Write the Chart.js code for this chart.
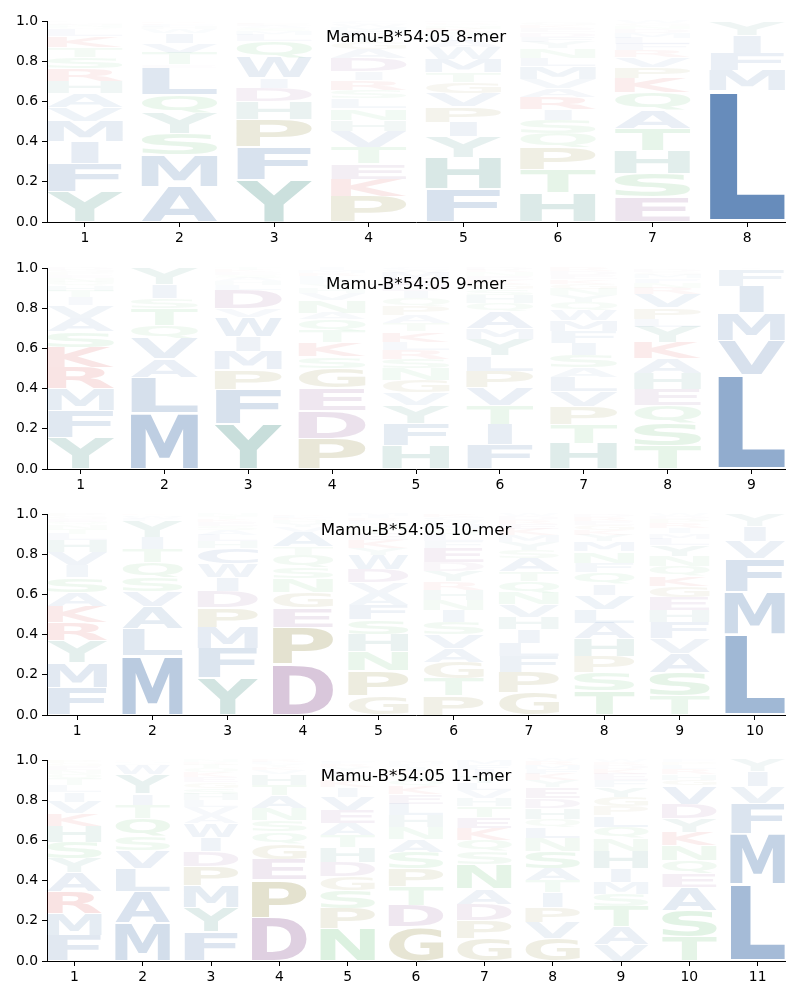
<!DOCTYPE html>
<html>
<head>
<meta charset="utf-8">
<script src="https://cdn.jsdelivr.net/npm/chart.js@4.4.1/dist/chart.umd.min.js"></script>
<style>
  body { margin: 0; background: #fff; }
  #wrap { position: relative; width: 800px; height: 1000px; }
  #wrap canvas { position: absolute; left: 0; }
</style>
</head>
<body>
<div id="wrap">
  <canvas id="logo8" width="800" height="247" style="top:0px"></canvas>
  <canvas id="logo9" width="800" height="247" style="top:247px"></canvas>
  <canvas id="logo10" width="800" height="247" style="top:493px"></canvas>
  <canvas id="logo11" width="800" height="247" style="top:739px"></canvas>
</div>
<script>
// letters of each position, bottom to top, and their heights (fractions)
const titles = ['Mamu-B*54:05 8-mer', 'Mamu-B*54:05 9-mer', 'Mamu-B*54:05 10-mer', 'Mamu-B*54:05 11-mer'];

const mer8Letters = ['YFIMVAHRSTKLQNEGDC', 'AMSYQLETVIWHFKRG', 'YFPHDIWQLMSAEKG', 'PKETVHNLSRIDAGYFMWCQ',
    'FHYIPVGTMWALSKNQRD', 'HTPQSIRAVMLNYFDEKGW', 'ESHTAQKPVRFLMDNGW', 'LMFIYV'];
const mer8Heights = [
    [.151,.142,.106,.101,.07,.069,.061,.062,.059,.05,.056,.03,.012,.01,.008,.006,.004,.003],
    [.174,.159,.106,.099,.094,.136,.015,.058,.05,.05,.018,.012,.01,.008,.006,.005],
    [.21,.164,.136,.088,.069,.05,.101,.082,.03,.02,.015,.012,.01,.008,.005],
    [.126,.088,.077,.082,.079,.056,.057,.048,.044,.048,.043,.067,.045,.035,.03,.025,.02,.015,.01,.005],
    [.166,.155,.103,.074,.075,.066,.056,.05,.066,.058,.03,.025,.02,.018,.014,.01,.008,.006],
    [.144,.119,.106,.071,.067,.054,.062,.043,.046,.061,.042,.049,.03,.028,.022,.02,.015,.012,.009],
    [.122,.117,.118,.109,.089,.088,.072,.057,.05,.035,.03,.03,.025,.02,.015,.013,.01],
    [.652,.1,.089,.088,.068,.003]
];

const mer9Letters = ['YFMRKSAVITHQNEPGD', 'MLAVQTSIYF', 'YFPMIWVDLHASEKT', 'PDEGSKTQANVHYFLRMI',
    'HFYVGNSRLKTAPQIDEMWC', 'FITVPLYMAQHSGKENRD', 'HTPVLASIFMWQYNGKEDR', 'TSQEHAKYLPVRNFMGDW', 'LVMIFY'];
const mer9Heights = [
    [.156,.135,.108,.106,.1,.079,.067,.063,.041,.03,.027,.02,.018,.015,.013,.012,.01],
    [.279,.178,.091,.1,.068,.084,.05,.067,.08,.003],
    [.224,.171,.098,.092,.073,.098,.041,.092,.025,.02,.018,.015,.012,.011,.01],
    [.153,.138,.111,.1,.058,.068,.058,.057,.034,.062,.035,.025,.022,.02,.018,.016,.013,.012],
    [.118,.11,.091,.06,.061,.058,.05,.045,.04,.05,.04,.04,.045,.04,.035,.03,.03,.03,.015,.012],
    [.121,.1,.095,.089,.082,.076,.083,.055,.08,.043,.04,.03,.025,.022,.02,.017,.012,.01],
    [.128,.095,.088,.073,.073,.048,.061,.059,.058,.055,.051,.042,.035,.03,.025,.022,.02,.02,.017],
    [.113,.116,.087,.079,.082,.073,.078,.078,.04,.056,.07,.03,.025,.022,.018,.013,.012,.008],
    [.47,.168,.139,.133,.083,.007]
];

const mer10Letters = ['FMYRKASIVHLTNQEGP', 'MLAVSQTIYFWHK', 'YFMPDIWCHLASEKTN', 'DPEGNSQTAVYHKLR',
    'GPNHSFAVDWYKETQLRIM', 'PTGAVSINHRYDEFLQMWCK', 'GPFLIHVNQTASYMKERDW', 'TSPHALVIQFNMYKGERD',
    'TSAVFHEGKQNYLMIRPDW', 'LMFVIY'];
const mer10Heights = [
    [.136,.125,.108,.091,.083,.067,.073,.06,.066,.063,.03,.025,.02,.015,.015,.013,.01],
    [.296,.133,.109,.077,.069,.075,.065,.06,.079,.012,.01,.008,.007],
    [.183,.149,.105,.098,.08,.068,.068,.08,.035,.03,.025,.02,.018,.015,.014,.012],
    [.254,.183,.098,.075,.069,.054,.064,.042,.071,.025,.02,.015,.012,.01,.008],
    [.095,.124,.098,.085,.073,.073,.058,.055,.065,.071,.034,.041,.03,.025,.022,.018,.013,.01,.01],
    [.095,.088,.081,.068,.067,.061,.06,.051,.052,.04,.051,.045,.072,.035,.03,.028,.025,.02,.016,.015],
    [.111,.1,.083,.065,.066,.063,.062,.058,.058,.05,.065,.04,.04,.035,.03,.025,.02,.017,.012],
    [.118,.093,.078,.091,.078,.069,.069,.054,.058,.049,.057,.05,.03,.025,.025,.02,.02,.016],
    [.095,.119,.093,.073,.08,.06,.066,.055,.05,.05,.051,.055,.03,.028,.025,.025,.02,.015,.01],
    [.402,.211,.164,.088,.075,.06]
];

const mer11Letters = ['FMRAYSHKVILTQNEGP', 'MALVSQTIYWFHKR', 'FYMPDIWAVLHSGEKQTRN', 'DPEGQSNATHVKYLR',
    'NPSGDHTAEVIKQLYRFM', 'GDTPSANHLEKQYRIFMV', 'GPDANSQKETHVLYIFM', 'GVPITASNLQHDEYKFMRW',
    'VATSMIHNQLPGYFEKDRW', 'TSAEQNKYDVGHRLPF', 'LMFVIY'];
const mer11Heights = [
    [.128,.108,.108,.095,.071,.081,.08,.062,.059,.047,.035,.03,.025,.02,.02,.016,.015],
    [.188,.158,.114,.09,.07,.089,.067,.056,.095,.05,.008,.006,.005,.004],
    [.145,.121,.111,.095,.076,.068,.068,.039,.041,.035,.032,.03,.028,.025,.024,.02,.018,.013,.011],
    [.216,.188,.101,.078,.06,.056,.06,.063,.053,.055,.02,.015,.013,.012,.01],
    [.161,.1,.089,.07,.073,.073,.059,.059,.067,.065,.048,.03,.028,.025,.02,.015,.01,.008],
    [.169,.108,.095,.088,.083,.063,.058,.059,.058,.05,.041,.03,.025,.02,.02,.013,.012,.008],
    [.111,.092,.081,.076,.122,.064,.055,.058,.057,.056,.04,.04,.035,.035,.03,.025,.023],
    [.111,.083,.073,.072,.06,.061,.086,.064,.056,.04,.053,.05,.055,.035,.03,.025,.022,.018,.01],
    [.083,.086,.103,.06,.06,.068,.088,.062,.056,.057,.044,.047,.05,.035,.03,.025,.02,.016,.01],
    [.12,.132,.115,.07,.066,.073,.065,.068,.072,.091,.03,.028,.025,.02,.015,.01],
    [.384,.251,.151,.083,.073,.058]
];

// colour of each residue group, drawn with opacity = letter height
const groupRgb = {
    hydrophobic: [21, 79, 150],
    aromatic: [11, 109, 94],
    polar: [40, 165, 60],
    special: [110, 100, 0],
    acidic: [107, 35, 115],
    basic: [200, 0, 0]
};
const residueGroup = {
    A:'hydrophobic', C:'hydrophobic', F:'hydrophobic', I:'hydrophobic', L:'hydrophobic',
    M:'hydrophobic', V:'hydrophobic', W:'hydrophobic',
    H:'aromatic', Y:'aromatic',
    N:'polar', Q:'polar', S:'polar', T:'polar',
    G:'special', P:'special',
    D:'acidic', E:'acidic',
    K:'basic', R:'basic'
};

const glyphFont = 'bold 200px "DejaVu Sans"';
const vpad = 0.05;
const narrowShare = 0.36;   // a thin glyph like I only takes this share of the column
const glyphCache = {};

function glyphBox(ctx, ch){
    if (!glyphCache[ch]){
        ctx.save();
        ctx.font = glyphFont;
        const m = ctx.measureText(ch);
        glyphCache[ch] = {l: m.actualBoundingBoxLeft, r: m.actualBoundingBoxRight,
                          a: m.actualBoundingBoxAscent, d: m.actualBoundingBoxDescent};
        ctx.restore();
    }
    return glyphCache[ch];
}

function makeLogoPlugin(title, letters, heights){
    return {
        id: 'seqlogo',
        afterDatasetsDraw(chart){
            const ctx = chart.ctx;
            const x = chart.scales.x, y = chart.scales.y;
            const iBox = glyphBox(ctx, 'I');
            const minW = (iBox.l + iBox.r) / narrowShare;
            letters.forEach((col, i) => {
                const pos = i + 1;
                let floor = 0;
                for (let k = 0; k < col.length; k++){
                    const ch = col[k];
                    const h = heights[i][k];
                    const lo = floor + h * vpad / 2;
                    const hi = floor + h - h * vpad / 2;
                    floor += h;
                    const x0 = x.getPixelForValue(pos - 0.4);
                    const x1 = x.getPixelForValue(pos + 0.4);
                    const yTop = y.getPixelForValue(hi);
                    const yBot = y.getPixelForValue(lo);
                    const g = glyphBox(ctx, ch);
                    const inkW = g.l + g.r;
                    const boxW = Math.max(inkW, minW);
                    const sx = (x1 - x0) / boxW;
                    const rgb = groupRgb[residueGroup[ch]];
                    ctx.save();
                    ctx.translate(x0 + (boxW - inkW) / 2 * sx, yTop);
                    ctx.scale(sx, (yBot - yTop) / (g.a + g.d));
                    ctx.font = glyphFont;
                    ctx.textAlign = 'left';
                    ctx.textBaseline = 'alphabetic';
                    ctx.fillStyle = 'rgba(' + rgb[0] + ',' + rgb[1] + ',' + rgb[2] + ',' + Math.min(1, h) + ')';
                    ctx.fillText(ch, g.l, g.a);
                    ctx.restore();
                }
            });
        },
        afterDraw(chart){
            const ctx = chart.ctx;
            const area = chart.chartArea;
            ctx.save();
            ctx.font = '16.7px "DejaVu Sans"';
            ctx.fillStyle = '#000';
            ctx.textAlign = 'center';
            ctx.textBaseline = 'alphabetic';
            ctx.fillText(title, (area.left + area.right) / 2, area.top + 21);
            ctx.restore();
        }
    };
}

function drawLogo(canvasId, title, letters, heights){
    const n = letters.length;
    const positions = letters.map((c, i) => i + 1);
    const ctx = document.getElementById(canvasId).getContext('2d');
    return new Chart(ctx, {
        type: 'scatter',
        data: { datasets: [{ data: [] }] },
        options: {
            responsive: false,
            animation: false,
            devicePixelRatio: 1,
            layout: { padding: { top: 21, right: 15, left: 0, bottom: 0 } },
            plugins: { legend: { display: false }, tooltip: { enabled: false } },
            scales: {
                x: {
                    type: 'linear',
                    min: 0.6,
                    max: n + 0.4,
                    afterBuildTicks: (scale) => { scale.ticks = positions.map(v => ({ value: v })); },
                    afterFit: (scale) => { scale.height = 25; },
                    ticks: {
                        color: '#000',
                        padding: 3,
                        font: { family: 'DejaVu Sans', size: 13.9 },
                        callback: (v) => String(v)
                    },
                    grid: { drawOnChartArea: false, drawTicks: true, tickLength: 5, color: '#000', lineWidth: 1 },
                    border: { display: true, color: '#000', width: 1 }
                },
                y: {
                    min: 0,
                    max: 1,
                    afterFit: (scale) => { scale.width = 47; },
                    ticks: {
                        stepSize: 0.2,
                        color: '#000',
                        padding: 4,
                        font: { family: 'DejaVu Sans', size: 13.9 },
                        callback: (v) => Number(v).toFixed(1)
                    },
                    grid: { drawOnChartArea: false, drawTicks: true, tickLength: 5, color: '#000', lineWidth: 1 },
                    border: { display: true, color: '#000', width: 1 }
                }
            }
        },
        plugins: [makeLogoPlugin(title, letters, heights)]
    });
}

drawLogo('logo8', titles[0], mer8Letters, mer8Heights);
drawLogo('logo9', titles[1], mer9Letters, mer9Heights);
drawLogo('logo10', titles[2], mer10Letters, mer10Heights);
drawLogo('logo11', titles[3], mer11Letters, mer11Heights);
</script>
</body>
</html>
